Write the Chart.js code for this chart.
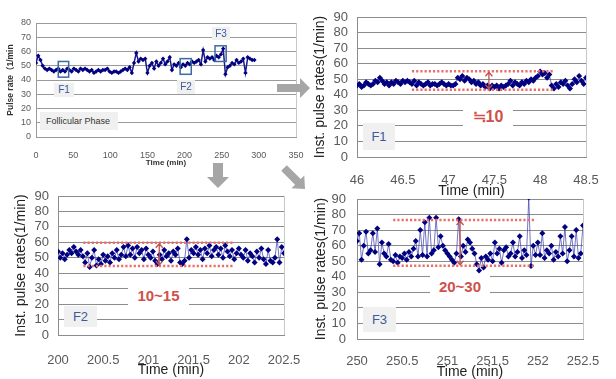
<!DOCTYPE html>
<html>
<head>
<meta charset="utf-8">
<script src="https://cdn.jsdelivr.net/npm/chart.js@4"></script>
<style>
  body { margin: 0; background: #fff; }
  #wrap { position: relative; width: 616px; height: 379px; overflow: hidden; font-family: "Liberation Sans", Arial, sans-serif; }
  canvas { position: absolute; }
  .tag { position: absolute; background: #f0f0f0; color: #3b5b9a; text-align: center; }
  .note { position: absolute; background: #fff; color: #d0504a; font-weight: bold; text-align: center; }
  svg { position: absolute; left: 0; top: 0; }
</style>
</head>
<body>
<div id="wrap">
  <canvas id="ov" width="310" height="172" style="left:0;top:0"></canvas>
  <canvas id="f1" width="306" height="200" style="left:310px;top:0"></canvas>
  <canvas id="f2" width="305" height="199" style="left:0;top:180px"></canvas>
  <canvas id="f3" width="311" height="194" style="left:305px;top:185px"></canvas>

  <div class="tag" style="left:54px;top:83px;width:20px;height:14px;font-size:10px;line-height:14px">F1</div>
  <div class="tag" style="left:177px;top:80px;width:18px;height:14px;font-size:10px;line-height:14px">F2</div>
  <div class="tag" style="left:212px;top:27px;width:18px;height:13px;font-size:10px;line-height:13px">F3</div>
  <div class="tag" style="left:40px;top:112px;width:78px;height:18px;font-size:9px;line-height:18px;color:#333;text-align:left;padding-left:6px;box-sizing:border-box">Follicular Phase</div>

  <div class="tag" style="left:363px;top:123px;width:32px;height:27px;font-size:13px;line-height:27px">F1</div>
  <div class="tag" style="left:64px;top:306px;width:33px;height:21px;font-size:13px;line-height:21px">F2</div>
  <div class="tag" style="left:363px;top:307px;width:33px;height:25px;font-size:13px;line-height:25px">F3</div>

  <div class="note" style="left:463px;top:106px;width:50px;height:22px;font-size:16px;line-height:22px;font-family:'Liberation Sans','Noto Sans CJK JP',sans-serif">≒10</div>
  <div class="note" style="left:128px;top:284px;width:61px;height:23px;font-size:15px;line-height:23px">10~15</div>
  <div class="note" style="left:430px;top:274px;width:60px;height:26px;font-size:15px;line-height:26px">20~30</div>

  <svg width="616" height="379">
    <polygon fill="#a6a6a6" points="277,84 300,84 300,78 310,88 300,98 300,92 277,92"/>
    <polygon fill="#a6a6a6" points="213,163 223,163 223,177 229,177 218,188 207,177 213,177"/>
    <polygon fill="#a6a6a6" points="281.2,170.8 295.1,184.7 291.5,188.3 305,189 304.3,175.5 300.7,179.1 286.8,165.2"/>
  </svg>
</div>

<script>
// overview: whole session, one value every 3 min
const OV_START = 0, OV_STEP = 3;
const ovValues = [
  52, 57, 54, 50, 48, 47, 48, 47, 46, 47,
  48, 46, 47, 46, 48, 47, 46, 48, 47, 46,
  48, 47, 48, 47, 46, 47, 45, 46, 47, 46,
  47, 47, 48, 46, 45, 46, 46, 45, 46, 47,
  48, 47, 49, 45, 52, 59, 53, 55, 54, 55,
  45, 50, 52, 48, 53, 50, 52, 55, 51, 53,
  56, 47, 51, 50, 52, 49, 51, 50, 52, 51,
  53, 52, 53, 54, 51, 61, 53, 56, 55, 56,
  54, 57, 56, 58, 62, 44, 49, 50, 52, 51,
  54, 52, 53, 55, 45, 56, 55, 54, 54
];
// boxes marking F1..F3 [t0, t1, low, high]
const ovBoxes = [[30, 44, 42, 53], [194, 209, 44, 55], [241, 256, 53, 64]];

// zoomed windows, one beat value every 0.025 min
const F_STEP = 0.025;
const f1Start = 46;
const f1Values = [
  46, 47, 45, 46, 48, 47, 46, 47, 49, 48, 51, 49, 47, 48, 46, 48, 47, 49, 48, 47, 49, 48, 49, 48,
  47, 49, 46, 48, 47, 46, 47, 48, 46, 47, 47, 46, 47, 48, 47, 46, 47, 46, 46, 47,
  51, 50, 52, 49, 51, 50, 48,
  49, 47, 48, 46, 47, 45, 46,
  44, 46, 45, 46, 44, 46, 45, 46,
  47, 49, 46, 48, 47, 46, 48, 47, 49, 48, 50, 49, 51, 52,
  55, 53, 54, 51, 53,
  46, 44, 47, 45, 48, 47, 49, 46,
  44, 47, 50, 48, 52, 49, 47, 51
];
const f2Start = 200;
const f2Values = [
  54, 50, 53, 49, 52, 55, 53, 57, 54, 52, 55,
  51, 47, 53, 44, 50, 55, 45, 49, 46, 52,
  48, 51, 47, 53, 50, 55, 49, 52, 57, 51,
  58, 52, 56, 50, 57, 53, 55, 49, 56, 52,
  50, 54, 48, 46, 52, 49, 55, 51, 53, 48,
  54, 52, 56, 47, 46, 48, 62, 50, 55, 53,
  57, 52, 55, 49, 56, 53, 58, 51, 55, 57,
  52, 56, 50, 58, 54, 51, 55, 49, 53, 56,
  52, 50, 55, 48, 53, 51, 47, 54, 50, 56,
  49, 46, 55, 48, 47, 50, 62, 47, 57, 53
];
const f3Start = 250;
const f3Values = [
  63, 68, 51, 60, 69, 55, 57, 68, 56, 71, 48,
  62, 55, 53, 61, 51, 50, 54, 49, 53, 52,
  55, 51, 56, 53, 58, 63, 53, 70, 54, 75,
  53, 78, 55, 57, 78, 59, 66, 60, 57, 55,
  53, 51, 49, 55, 77, 53, 60, 56, 64, 62,
  58, 55, 48, 44, 52, 46, 53, 51, 55, 50,
  62, 55, 58, 49, 57, 59, 53, 55, 62, 53,
  56, 66, 52, 57, 54, 91, 47, 60, 54, 62,
  54, 68, 52, 57, 55, 60, 51, 56, 53, 66,
  55, 72, 50, 57, 66, 53, 70, 52, 55, 73
];
// dotted range lines [t0, t1, low, high, arrow t]
const f1Band = [46.6, 48.15, 43.3, 55.1, 47.44];
const f2Band = [200.28, 201.94, 44.7, 59.7, 201.12];
const f3Band = [250.4, 251.97, 47.1, 76.5, 251.14];

const toPoints = (start, step, vals) => vals.map((v, i) => ({ x: +(start + i * step).toFixed(3), y: v }));

const fixW = w => s => { s.width = w; s.paddingLeft = s.paddingRight = s.paddingTop = s.paddingBottom = 0; };
const fixH = h => s => { s.height = h; s.paddingLeft = s.paddingRight = s.paddingTop = s.paddingBottom = 0; };

const marks = {
  id: 'marks',
  beforeDatasetsDraw(chart) {
    const { ctx, chartArea: a } = chart;
    ctx.save();
    ctx.strokeStyle = '#c8c8c8';
    ctx.lineWidth = 1;
    ctx.beginPath();
    ctx.moveTo(Math.round(a.right) + 0.5, a.top);
    ctx.lineTo(Math.round(a.right) + 0.5, a.bottom);
    ctx.stroke();
    ctx.restore();
  },
  afterDatasetsDraw(chart, args, o) {
    const { ctx, scales: { x, y } } = chart;
    ctx.save();
    (o.boxes || []).forEach(b => {
      ctx.strokeStyle = '#3d6aa3';
      ctx.lineWidth = 1.5;
      const x0 = x.getPixelForValue(b[0]), x1 = x.getPixelForValue(b[1]);
      const y0 = y.getPixelForValue(b[3]), y1 = y.getPixelForValue(b[2]);
      ctx.strokeRect(x0, y0, x1 - x0, y1 - y0);
    });
    if (o.band) {
      const b = o.band;
      const x0 = x.getPixelForValue(b[0]), x1 = x.getPixelForValue(b[1]);
      const yl = y.getPixelForValue(b[2]), yh = y.getPixelForValue(b[3]);
      ctx.strokeStyle = '#e8706a';
      ctx.lineWidth = 2.5;
      ctx.setLineDash([2.2, 2]);
      [yl, yh].forEach(yy => {
        ctx.beginPath(); ctx.moveTo(x0, yy); ctx.lineTo(x1, yy); ctx.stroke();
      });
      ctx.setLineDash([]);
      // double headed arrow
      const xa = x.getPixelForValue(b[4]);
      ctx.strokeStyle = '#c0504d';
      ctx.lineWidth = 1.3;
      ctx.beginPath();
      ctx.moveTo(xa, yh + 1); ctx.lineTo(xa, yl - 1);
      ctx.moveTo(xa - 3.5, yh + 5); ctx.lineTo(xa, yh + 1); ctx.lineTo(xa + 3.5, yh + 5);
      ctx.moveTo(xa - 3.5, yl - 5); ctx.lineTo(xa, yl - 1); ctx.lineTo(xa + 3.5, yl - 5);
      ctx.stroke();
    }
    ctx.restore();
  }
};

const FONT = "'Liberation Sans', 'Noto Sans CJK JP', Arial, sans-serif";
Chart.defaults.font.family = FONT;

function zoomChart(id, start, vals, band, box) {
  return new Chart(document.getElementById(id), {
    type: 'line',
    data: {
      datasets: [{
        data: toPoints(start, F_STEP, vals),
        borderColor: 'rgba(70,70,175,0.75)',
        borderWidth: 1,
        pointStyle: 'rectRot',
        pointRadius: 3,
        pointBackgroundColor: '#000080',
        pointBorderWidth: 0,
        tension: 0
      }]
    },
    options: {
      responsive: false,
      animation: false,
      devicePixelRatio: 1,
      events: [],
      layout: { padding: box.pad },
      plugins: { legend: { display: false }, tooltip: { enabled: false }, marks: { band } },
      scales: {
        x: {
          type: 'linear', min: start, max: start + 2.5,
          ticks: { stepSize: 0.5, autoSkip: false, color: '#595959', font: { size: 13 }, padding: box.xPad, callback: v => String(+v.toFixed(1)) },
          grid: { display: false },
          border: { color: '#8c8c8c' },
          title: { display: true, text: 'Time (min)', color: '#222', font: { size: 14, lineHeight: 1 }, padding: { top: 0, bottom: box.xTitle } },
          afterFit: fixH(box.xh)
        },
        y: {
          min: 0, max: 90,
          ticks: { stepSize: 10, autoSkip: false, color: '#595959', font: { size: 13 }, padding: box.yPad },
          grid: { color: '#8c8c8c', drawTicks: false },
          border: { color: '#8c8c8c' },
          title: { display: true, text: 'Inst. pulse rates(1/min)', color: '#222', font: { size: 14, lineHeight: 1 }, padding: { top: box.yTitle, bottom: 0 } },
          afterFit: fixW(box.yw)
        }
      }
    },
    plugins: [marks]
  });
}

// overview chart
new Chart(document.getElementById('ov'), {
  type: 'line',
  data: {
    datasets: [{
      data: toPoints(OV_START, OV_STEP, ovValues),
      borderColor: '#1a1a8c',
      borderWidth: 1.5,
      pointStyle: 'rectRot',
      pointRadius: 2.2,
      pointBackgroundColor: '#000080',
      pointBorderWidth: 0,
      tension: 0
    }]
  },
  options: {
    responsive: false,
    animation: false,
    devicePixelRatio: 1,
    events: [],
    layout: { padding: { left: 0, top: 23, right: 14, bottom: 0 } },
    plugins: { legend: { display: false }, tooltip: { enabled: false }, marks: { boxes: ovBoxes } },
    scales: {
      x: {
        type: 'linear', min: 0, max: 350,
        ticks: { stepSize: 50, autoSkip: false, color: '#595959', font: { size: 9 }, padding: 5 },
        grid: { display: false },
        border: { color: '#9a9a9a' },
        title: { display: true, text: 'Time (min)', color: '#333', font: { size: 8, weight: 'bold', lineHeight: 1 }, padding: { top: 0, bottom: 5 } },
        afterFit: fixH(35)
      },
      y: {
        min: 0, max: 80,
        ticks: { stepSize: 10, autoSkip: false, color: '#595959', font: { size: 9 }, padding: 5 },
        grid: { color: '#9a9a9a', drawTicks: false },
        border: { color: '#9a9a9a' },
        title: { display: true, text: 'Pulse rate（1/min', color: '#333', font: { size: 8.5, weight: 'bold', lineHeight: 1 }, padding: { top: 6, bottom: 0 } },
        afterFit: fixW(36)
      }
    }
  },
  plugins: [marks]
});

zoomChart('f1', f1Start, f1Values, f1Band,
  { pad: { left: 0, top: 17, right: 30, bottom: 0 }, xh: 43, yw: 47, xPad: 8, yPad: 9, xTitle: 2, yTitle: 3 });
zoomChart('f2', f2Start, f2Values, f2Band,
  { pad: { left: 0, top: 16, right: 21, bottom: 0 }, xh: 44, yw: 58, xPad: 10, yPad: 9, xTitle: 2, yTitle: 14 });
zoomChart('f3', f3Start, f3Values, f3Band,
  { pad: { left: 0, top: 14, right: 33, bottom: 0 }, xh: 40, yw: 52, xPad: 7, yPad: 11, xTitle: 0, yTitle: 9 });
</script>
</body>
</html>
